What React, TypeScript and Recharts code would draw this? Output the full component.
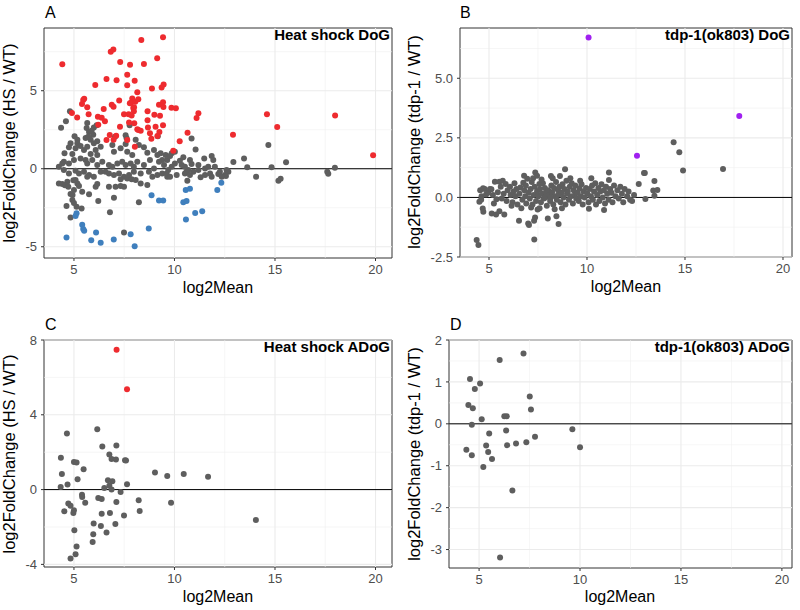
import React from "react";
import {
  ReferenceArea,
  ReferenceLine,
  Scatter,
  ScatterChart,
  XAxis,
  YAxis,
} from "recharts";

type Pt = [number, number];

const xTicks = [5, 10, 15, 20];
const xMinor = [7.5, 12.5, 17.5];

// A: Heat shock DoG
const hsDogUp: Pt[] = [
  [8.35, 8.25], [9.43, 8.42], [6.83, 7.5], [6.96, 7.65], [4.42, 6.7], [7.3, 6.84],
  [7.79, 6.67], [8.48, 6.71], [9.14, 7.08], [7.65, 6.03], [6.62, 5.75], [7.12, 5.67],
  [8.02, 5.64], [7.65, 5.35], [6.06, 5.37], [8.88, 5.15], [9.36, 5.2], [9.46, 5.4],
  [8.15, 4.9], [7.9, 4.5], [8.05, 4.3], [8.2, 4.45], [7.85, 4.25], [5.51, 4.49],
  [5.46, 4.4], [5.4, 4.15], [5.66, 3.94], [6.48, 3.83], [6.88, 4.1], [6.97, 3.97],
  [7.25, 4.38], [7.78, 4.19], [7.95, 3.89], [7.98, 3.68], [7.72, 3.5], [7.87, 3.42],
  [7.49, 3.5], [9.23, 4.1], [9.45, 3.96], [9.43, 4.26], [8.66, 3.68], [9.0, 3.46],
  [9.28, 3.4], [4.9, 3.57], [5.16, 3.29], [5.73, 3.49], [6.19, 3.33], [6.38, 3.27],
  [6.54, 3.04], [7.29, 2.69], [6.78, 2.16], [7.1, 2.12], [8.15, 2.53], [8.32, 2.44],
  [8.68, 2.65], [9.06, 2.69], [9.43, 2.78], [8.78, 2.27], [9.25, 2.35], [6.21, 2.82],
  [8.85, 1.92], [9.15, 2.1], [6.97, 1.86], [9.85, 3.91], [10.07, 3.87], [11.19, 3.55],
  [11.1, 3.25], [10.65, 2.31], [10.26, 1.76], [8.66, 3.1], [8.0, 2.91], [7.74, 2.97],
  [7.99, 3.94], [8.2, 2.48], [8.03, 1.41], [9.94, 1.15], [6.62, 1.84], [7.65, 1.84],
  [14.6, 3.5], [15.11, 2.67], [12.91, 2.18], [17.99, 3.42], [19.88, 0.86],
];
const hsDogDown: Pt[] = [
  [4.63, -4.4], [5.13, -2.86], [5.08, -3.03], [5.41, -3.59], [5.46, -3.86], [5.51, -3.98],
  [6.1, -4.08], [5.86, -4.58], [6.33, -4.75], [6.98, -4.53], [7.82, -4.2], [8.02, -4.97],
  [8.72, -3.83], [8.86, -1.7], [9.23, -2.03], [9.44, -2.03], [10.56, -1.37], [10.77, -1.28],
  [10.44, -2.15], [10.6, -2.07], [10.57, -3.25], [11.03, -2.83], [11.38, -2.73],
  [12.13, -1.37], [12.33, -0.9],
];
const hsDogNs: Pt[] = [
  [4.8, 3.68], [4.6, 3.04], [4.36, 2.62], [5.66, 2.93], [5.63, 2.61], [5.75, 2.35],
  [5.99, 2.65], [6.13, 2.78], [5.96, 2.18], [5.58, 1.97], [5.03, 2.08], [5.17, 1.86],
  [5.83, 1.86], [6.16, 1.76], [7.57, 2.14], [7.77, 2.78], [8.07, 1.86], [9.17, 2.08],
  [7.04, 2.05], [10.85, 1.94], [5.71, 2.05], [5.88, 2.43], [7.62, 1.95],
  [4.83, 1.63], [5.17, 1.63], [5.33, 1.46], [5.08, 1.31], [4.75, 1.37], [4.53, 0.99],
  [4.92, 0.94], [5.5, 1.2], [5.66, 1.41], [5.99, 1.63], [6.08, 1.2], [5.83, 0.94],
  [6.16, 0.88], [6.33, 1.41], [6.91, 1.52], [6.99, 1.09], [7.32, 1.31], [7.57, 1.58],
  [7.65, 1.09], [7.9, 0.88], [8.23, 1.52], [8.48, 1.37], [8.65, 1.03], [8.98, 1.2],
  [9.15, 0.88], [9.31, 0.99], [9.56, 0.88], [9.39, 0.56],
  [4.25, 0.13], [4.42, 0.34], [4.5, 0.45], [4.75, 0.34], [5.0, 0.56], [5.33, 0.66],
  [5.58, 0.56], [5.66, 0.34], [5.91, 0.56], [6.16, 0.24], [6.41, 0.45], [6.74, 0.24],
  [6.91, 0.13], [7.16, 0.34], [7.4, 0.45], [7.57, 0.24], [7.82, 0.34], [7.98, 0.13],
  [8.15, 0.45], [8.48, 0.24], [8.78, 0.56], [8.98, 0.02], [9.23, 0.45], [9.48, 0.24],
  [9.64, 0.56],
  [4.5, -0.08], [4.75, -0.3], [5.08, -0.13], [5.25, -0.3], [5.5, -0.19], [5.75, -0.4],
  [5.99, -0.51], [6.33, -0.19], [6.57, -0.19], [6.74, -0.3], [6.99, -0.4], [7.24, -0.3],
  [7.49, -0.51], [7.74, -0.4], [7.98, -0.19], [8.32, -0.3], [8.73, -0.19], [8.9, -0.51],
  [9.15, -0.4], [9.39, -0.3], [9.64, -0.51], [7.32, -0.68], [7.65, -0.62], [7.87, -0.68],
  [4.25, -0.94], [4.42, -0.98], [4.67, -0.83], [5.08, -0.72], [5.17, -0.94], [5.25, -1.11],
  [5.66, -0.51], [6.08, -1.15], [6.16, -0.98], [6.74, -1.15], [7.07, -1.15], [7.32, -1.11],
  [7.49, -1.15], [8.07, -0.72], [8.32, -0.94], [8.65, -1.04], [5.0, -1.37], [5.41, -1.47],
  [5.75, -1.64], [4.83, -1.62],
  [4.55, -1.05], [4.72, -1.15], [4.97, -0.73], [4.93, -1.69], [4.92, -2.01], [5.0, -2.2],
  [4.63, -2.39], [5.13, -2.43], [5.38, -2.54], [4.83, -3.13], [6.21, -2.07], [6.99, -1.86],
  [8.23, -2.14], [6.79, -2.79], [7.49, -4.08],
  [11.05, 1.24], [9.86, 0.99], [9.78, 0.81], [10.02, 1.09], [10.27, 0.52], [10.44, 0.73],
  [10.85, 0.3], [10.77, 0.56], [11.19, 0.24], [11.48, 0.66], [11.85, 0.81], [11.93, 0.56],
  [11.68, 0.13], [12.01, 0.13], [11.52, 0.02], [11.19, -0.08], [10.94, -0.19], [10.69, -0.08],
  [10.52, 0.13], [10.36, 0.24], [10.02, 0.34], [9.86, 0.13], [9.69, -0.08], [9.61, -0.3],
  [9.78, -0.51], [10.11, -0.4], [10.52, -0.3], [10.6, -0.19], [10.77, -0.4], [11.3, -0.55],
  [11.52, -0.4], [11.77, -0.3], [11.85, -0.51], [12.18, -0.34], [12.26, -0.19], [12.59, -0.08],
  [12.68, -0.19], [12.51, -0.4], [10.64, -0.77],
  [14.67, 1.52], [12.93, 0.43], [13.46, 0.66], [13.62, 0.09], [12.63, -0.13], [12.56, -0.47],
  [12.35, -0.51], [14.06, -0.51], [14.83, 0.09], [15.55, 0.41], [15.17, -0.77], [15.28, -0.64],
  [17.6, -0.19], [17.65, -0.32], [17.98, 0.07],
];

// B: tdp-1(ok803) DoG
const tdpDogSig: Pt[] = [[10.08, 6.71], [12.55, 1.75], [17.77, 3.42]];
const tdpDogNs: Pt[] = [
  [4.37, -1.79], [4.46, -2.0], [4.51, -0.18], [4.68, -0.46], [4.71, -0.6], [5.14, -0.67],
  [5.36, -0.72], [5.53, -0.58], [5.78, -0.72], [6.53, -0.98], [7.0, -1.09], [7.04, -1.16],
  [7.3, -0.98], [7.35, -0.84], [7.31, -1.77], [8.0, -0.88], [8.44, -0.79], [8.55, -1.12],
  [7.48, -0.51], [10.87, -0.53], [10.1, -0.48],
  [14.42, 2.32], [14.71, 1.9], [14.9, 1.13], [16.94, 1.19], [12.91, 1.02], [12.95, 1.03],
  [12.64, 0.56], [13.44, 0.69], [13.38, 0.29], [13.59, 0.31], [13.44, 0.07], [12.98, -0.07],
  [8.88, 1.18], [11.12, 1.05], [11.12, 0.73], [7.36, 1.05], [7.45, 0.91], [6.79, 0.91],
  [8.16, 0.9], [7.57, 0.56],
  [4.55, 0.3], [4.62, 0.05], [4.7, 0.38], [4.78, 0.35], [4.6, -0.1], [4.85, 0.12], [4.95, 0.2],
  [5.05, 0.35], [5.12, 0.34], [5.3, 0.66], [5.2, 0.1], [5.38, -0.08], [5.45, 0.22], [5.25, -0.25],
  [5.53, 0.66], [5.7, 0.7], [5.6, 0.45], [5.75, 0.15], [5.85, 0.56], [5.9, -0.15], [5.95, 0.3],
  [5.65, -0.05], [6.07, 0.45], [6.1, 0.1], [6.2, -0.2], [6.25, 0.25], [6.3, 0.6], [6.35, 0.05],
  [6.45, -0.3], [6.4, 0.35], [6.15, -0.35], [6.55, 0.15], [6.6, 0.42], [6.7, -0.1], [6.75, 0.62],
  [6.8, 0.3], [6.85, 0.05], [6.9, -0.25], [6.95, 0.78], [6.65, -0.45], [6.88, 0.5],
  [7.02, 0.2], [7.08, -0.05], [7.12, 0.35], [7.18, 0.65], [7.22, -0.3], [7.28, 0.1], [7.33, 0.45],
  [7.4, -0.15], [7.45, 0.25], [7.25, 0.8], [7.15, -0.42], [7.52, 0.05], [7.6, 0.35], [7.65, -0.2],
  [7.7, 0.15], [7.75, 0.6], [7.8, -0.05], [7.85, 0.4], [7.9, 0.2], [7.95, -0.35], [7.68, 0.75],
  [7.58, -0.45], [7.88, 0.0], [8.02, 0.3], [8.08, 0.1], [8.12, -0.15], [8.18, 0.5], [8.22, 0.22],
  [8.28, -0.3], [8.32, 0.4], [8.38, 0.05], [8.42, 0.65], [8.46, -0.1], [8.25, 0.8], [8.35, -0.5],
  [8.15, 0.0], [8.52, 0.3], [8.56, 0.12], [8.6, 0.45], [8.65, -0.2], [8.7, 0.2], [8.75, 0.55],
  [8.8, 0.0], [8.85, 0.35], [8.9, -0.3], [8.95, 0.7], [8.62, 0.9], [8.72, -0.45], [8.98, 0.15],
  [9.02, 0.25], [9.08, -0.1], [9.12, 0.45], [9.18, 0.05], [9.22, 0.6], [9.28, -0.25], [9.32, 0.3],
  [9.38, 0.1], [9.45, -0.05], [9.15, 0.8], [9.4, 0.5], [9.52, 0.2], [9.58, -0.15], [9.62, 0.38],
  [9.68, 0.05], [9.72, 0.55], [9.78, -0.3], [9.82, 0.25], [9.88, 0.0], [9.95, 0.4], [9.65, 0.7],
  [10.02, 0.15], [10.08, -0.2], [10.14, 0.35], [10.2, 0.05], [10.26, 0.5], [10.3, -0.1],
  [10.36, 0.25], [10.42, 0.6], [10.46, -0.3], [10.22, 0.8], [10.52, 0.1], [10.58, 0.4],
  [10.63, -0.15], [10.68, 0.25], [10.74, 0.55], [10.8, 0.0], [10.86, 0.3], [10.92, -0.25],
  [10.97, 0.45], [11.03, 0.15], [11.1, -0.1], [11.18, 0.35], [11.25, 0.2], [11.3, -0.2],
  [11.38, 0.5], [11.45, 0.05], [11.55, 0.3], [11.62, -0.05], [11.7, 0.45], [11.78, 0.15],
  [11.85, -0.2], [11.92, 0.35], [12.05, 0.05], [12.12, 0.25], [12.2, -0.1], [12.3, -0.15],
  [12.4, 0.1],
];

// C: Heat shock ADoG
const hsAdogUp: Pt[] = [[7.12, 7.48], [7.64, 5.36]];
const hsAdogNs: Pt[] = [
  [4.35, 1.7], [4.4, 0.84], [4.34, 0.14], [4.65, 3.0], [4.68, 0.27], [4.72, -0.75],
  [4.83, -0.86], [4.52, -1.16], [5.0, 1.48], [5.13, 1.45], [5.18, 0.55], [5.48, 1.09],
  [5.4, -0.27], [5.41, -0.39], [5.56, -0.71], [5.0, -1.11], [4.97, -1.25], [5.02, -2.18],
  [5.13, -3.04], [5.08, -3.46], [4.83, -3.68], [6.16, 3.23], [6.41, 2.3], [6.76, 1.88],
  [6.87, 1.64], [7.09, 1.61], [7.11, 2.36], [7.54, 1.57], [7.59, 1.55], [6.69, 0.5],
  [6.91, 0.45], [6.51, 0.09], [6.76, 0.2], [6.87, 0.0], [7.32, -0.13], [7.64, 0.29],
  [6.21, -0.45], [6.38, -0.5], [7.11, -0.66], [6.38, -1.29], [6.79, -1.25], [7.49, -1.39],
  [5.98, -1.82], [6.34, -1.95], [7.06, -1.84], [6.62, -2.29], [5.96, -2.39], [5.93, -2.8],
  [8.22, -0.57], [8.27, -1.14], [9.03, 0.91], [9.64, 0.73], [10.46, 0.84], [11.67, 0.68],
  [9.83, -0.7], [14.05, -1.63],
];

// D: tdp-1(ok803) ADoG
const tdpAdogNs: Pt[] = [
  [7.2, 1.68], [6.02, 1.52], [4.55, 1.07], [5.05, 0.96], [4.79, 0.83], [7.51, 0.65],
  [4.47, 0.45], [4.69, 0.37], [7.57, 0.34], [5.13, 0.11], [6.25, 0.18], [6.37, 0.18],
  [4.64, -0.02], [9.62, -0.13], [6.34, -0.16], [5.5, -0.23], [7.77, -0.31], [4.37, -0.62],
  [5.35, -0.52], [6.39, -0.51], [6.83, -0.47], [7.34, -0.44], [10.0, -0.56], [5.45, -0.67],
  [4.64, -0.75], [5.64, -0.84], [5.21, -1.03], [6.65, -1.59], [6.04, -3.19],
];

const GRAY = "#5E5E5E";
const RED = "#EE2B2F";
const BLUE = "#3F7FBD";
const PURPLE = "#A020F0";
const FONT = "'Liberation Sans', Arial, Helvetica, sans-serif";

type Series = { data: Pt[]; color: string };

function dot(color: string) {
  return (p: any) => <circle cx={p.cx} cy={p.cy} r={3} fill={color} />;
}

function Panel(props: {
  left: number;
  top: number;
  width: number;
  height: number;
  plot: { left: number; right: number; top: number; bottom: number };
  xDomain: [number, number];
  yDomain: [number, number];
  yTicks: number[];
  yMinor: number[];
  yFmt?: (v: number) => string;
  series: Series[];
}) {
  const { left, top, width, height, plot, xDomain, yDomain, yTicks, yMinor, yFmt, series } = props;
  return (
    <div style={{ position: "absolute", left, top }}>
      <ScatterChart
        width={width}
        height={height}
        margin={{ top: plot.top, right: width - plot.right, left: 0, bottom: 0 }}
      >
        <XAxis
          type="number"
          dataKey="x"
          domain={xDomain}
          ticks={xTicks}
          interval={0}
          allowDataOverflow
          height={height - plot.bottom}
          tickSize={3}
          tickMargin={4}
          axisLine={false}
          tickLine={{ stroke: "#333333" }}
          tick={{ fill: "#4D4D4D", fontSize: 13 }}
        />
        <YAxis
          type="number"
          dataKey="y"
          domain={yDomain}
          ticks={yTicks}
          interval={0}
          allowDataOverflow
          width={plot.left}
          tickSize={3}
          tickMargin={4}
          axisLine={false}
          tickLine={{ stroke: "#333333" }}
          tick={{ fill: "#4D4D4D", fontSize: 13 }}
          tickFormatter={yFmt ?? ((v: number) => String(v))}
        />
        {xMinor.map((v) => (
          <ReferenceLine key={`xm${v}`} x={v} stroke="#F0F0F0" strokeWidth={0.6} />
        ))}
        {yMinor.map((v) => (
          <ReferenceLine key={`ym${v}`} y={v} stroke="#F0F0F0" strokeWidth={0.6} />
        ))}
        {xTicks.map((v) => (
          <ReferenceLine key={`xM${v}`} x={v} stroke="#EBEBEB" strokeWidth={1.1} />
        ))}
        {yTicks.map((v) => (
          <ReferenceLine key={`yM${v}`} y={v} stroke="#EBEBEB" strokeWidth={1.1} />
        ))}
        <ReferenceLine y={0} stroke="#000000" strokeWidth={1} />
        {series.map((s, i) => (
          <Scatter
            key={i}
            data={s.data.map(([x, y]) => ({ x, y }))}
            fill={s.color}
            shape={dot(s.color)}
            isAnimationActive={false}
          />
        ))}
        <ReferenceArea
          x1={xDomain[0]}
          x2={xDomain[1]}
          y1={yDomain[0]}
          y2={yDomain[1]}
          fill="none"
          fillOpacity={0}
          stroke="#333333"
          strokeWidth={1}
        />
      </ScatterChart>
    </div>
  );
}

export default function App() {
  const yTitle = (x: number, y: number, text: string) => (
    <text x={x} y={y} transform={`rotate(-90 ${x} ${y})`} textAnchor="middle" fontSize={16.5} fill="#000">
      {text}
    </text>
  );
  return (
    <div
      style={{
        position: "absolute",
        left: 0,
        top: 0,
        width: 800,
        height: 610,
        background: "#fff",
        fontFamily: FONT,
      }}
    >
      <Panel
        left={0}
        top={0}
        width={400}
        height={300}
        plot={{ left: 44, right: 392, top: 28, bottom: 258 }}
        xDomain={[3.51, 20.82]}
        yDomain={[-5.72, 9.02]}
        yTicks={[-5, 0, 5]}
        yMinor={[-2.5, 2.5, 7.5]}
        series={[
          { data: hsDogNs, color: GRAY },
          { data: hsDogDown, color: BLUE },
          { data: hsDogUp, color: RED },
        ]}
      />
      <Panel
        left={400}
        top={0}
        width={400}
        height={300}
        plot={{ left: 60, right: 392, top: 28, bottom: 257 }}
        xDomain={[3.52, 20.46]}
        yDomain={[-2.5, 7.11]}
        yTicks={[-2.5, 0, 2.5, 5]}
        yMinor={[-1.25, 1.25, 3.75, 6.25]}
        yFmt={(v: number) => v.toFixed(1)}
        series={[
          { data: tdpDogNs, color: GRAY },
          { data: tdpDogSig, color: PURPLE },
        ]}
      />
      <Panel
        left={0}
        top={300}
        width={400}
        height={310}
        plot={{ left: 44, right: 392, top: 40, bottom: 267 }}
        xDomain={[3.51, 20.82]}
        yDomain={[-4.14, 8.0]}
        yTicks={[-4, 0, 4, 8]}
        yMinor={[-2, 2, 6]}
        series={[
          { data: hsAdogNs, color: GRAY },
          { data: hsAdogUp, color: RED },
        ]}
      />
      <Panel
        left={400}
        top={300}
        width={400}
        height={310}
        plot={{ left: 49, right: 392, top: 40, bottom: 268 }}
        xDomain={[3.51, 20.5]}
        yDomain={[-3.44, 2.0]}
        yTicks={[-3, -2, -1, 0, 1, 2]}
        yMinor={[-2.5, -1.5, -0.5, 0.5, 1.5]}
        series={[{ data: tdpAdogNs, color: GRAY }]}
      />
      <svg
        width={800}
        height={610}
        style={{ position: "absolute", left: 0, top: 0, pointerEvents: "none" }}
      >
        <g fontFamily={FONT}>
          <text x={45} y={17.5} fontSize={16}>A</text>
          <text x={460} y={17.5} fontSize={16}>B</text>
          <text x={45} y={330} fontSize={16}>C</text>
          <text x={450} y={330} fontSize={16}>D</text>

          <text x={390} y={39.5} fontSize={15} fontWeight="bold" textAnchor="end">Heat shock DoG</text>
          <text x={790} y={39.5} fontSize={15} fontWeight="bold" textAnchor="end">tdp-1(ok803) DoG</text>
          <text x={390} y={351.5} fontSize={15} fontWeight="bold" textAnchor="end">Heat shock ADoG</text>
          <text x={790} y={351.5} fontSize={15} fontWeight="bold" textAnchor="end">tdp-1(ok803) ADoG</text>

          <text x={218} y={293} fontSize={16} textAnchor="middle">log2Mean</text>
          <text x={626} y={292} fontSize={16} textAnchor="middle">log2Mean</text>
          <text x={218} y={602} fontSize={16} textAnchor="middle">log2Mean</text>
          <text x={620} y={602} fontSize={16} textAnchor="middle">log2Mean</text>

          {yTitle(15, 143, "log2FoldChange (HS / WT)")}
          {yTitle(420, 142, "log2FoldChange (tdp-1 / WT)")}
          {yTitle(15, 454, "log2FoldChange (HS / WT)")}
          {yTitle(420, 454, "log2FoldChange (tdp-1 / WT)")}
        </g>
      </svg>
    </div>
  );
}
